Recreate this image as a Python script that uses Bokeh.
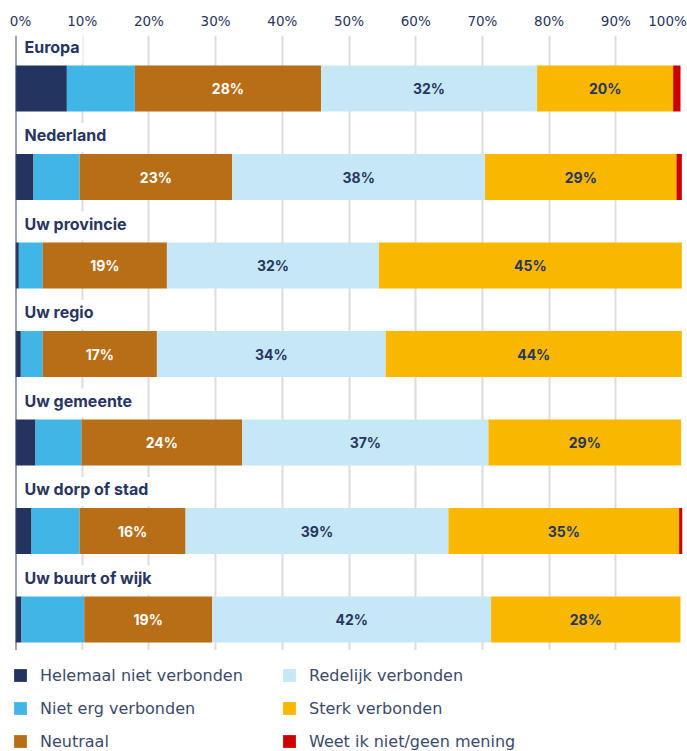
import numpy as np
from bokeh.plotting import figure
from bokeh.layouts import column
from bokeh.models import (ColumnDataSource, Range1d, FixedTicker, Span, Legend,
                          LegendItem, Label)
from bokeh.core.properties import value
from bokeh.embed import file_html
from bokeh.resources import INLINE

# ---------------- data ----------------
categories = ["Europa", "Nederland", "Uw provincie", "Uw regio",
              "Uw gemeente", "Uw dorp of stad", "Uw buurt of wijk"]
series_names = ["Helemaal niet verbonden", "Niet erg verbonden", "Neutraal",
                "Redelijk verbonden", "Sterk verbonden", "Weet ik niet/geen mening"]
helemaal_niet = [7.7, 2.7, 0.5, 0.8, 3.0, 2.4, 0.9]
niet_erg = [10.2, 6.9, 3.6, 3.3, 6.9, 7.2, 9.4]
neutraal = [27.9, 22.9, 18.6, 17.1, 24.1, 15.9, 19.2]
redelijk = [32.4, 37.9, 31.8, 34.3, 36.9, 39.4, 41.8]
sterk = [20.4, 28.7, 45.4, 44.4, 28.9, 34.6, 28.4]
weet_niet = [1.1, 0.8, 0.0, 0.0, 0.0, 0.5, 0.0]
tick_values = [0, 10, 20, 30, 40, 50, 60, 70, 80, 90, 100]
tick_labels = ["0%", "10%", "20%", "30%", "40%", "50%", "60%", "70%", "80%", "90%", "100%"]

# ---------------- style ----------------
colors = ["#22345f", "#41b5e5", "#b86d17", "#c6e8f6", "#fab700", "#cc0000"]
label_colors = ["white", "white", "white", "#28365f", "#28365f", "#28365f"]
TEXT = "#28365f"
FONT = "Inter"
LFONT = "DejaVu Sans"
BAR_H = 0.52
PX_PER_UNIT = 88.5          # vertical px per category step
PX_PER_PCT = 6.67           # horizontal px per percent
LEFT, RIGHT = 15, 5         # borders around the plotting frame
W = 687

keys = ["s0", "s1", "s2", "s3", "s4", "s5"]
series = [helemaal_niet, niet_erg, neutraal, redelijk, sterk, weet_niet]
ypos = [-i for i in range(len(categories))]
src = ColumnDataSource(dict(y=ypos, **{k: v for k, v in zip(keys, series)}))

# ---------------- top strip: tick labels ----------------
ptop = figure(width=W, height=35, output_backend="svg", toolbar_location=None,
              x_range=Range1d(-LEFT / PX_PER_PCT, (W - LEFT) / PX_PER_PCT),
              y_range=Range1d(0, 35), x_axis_location=None, y_axis_location=None,
              min_border=0, min_border_left=0, min_border_right=0,
              min_border_top=0, min_border_bottom=0, frame_align=False)
ptop.outline_line_color = None
ptop.grid.grid_line_color = None
tick_offsets = [5] + [0] * (len(tick_values) - 2) + [-15]
ptop.text(x=tick_values, y=[14.3] * len(tick_values), text=tick_labels,
          x_offset=tick_offsets, text_align="center", text_baseline="middle",
          text_font=value(LFONT), text_font_size="13.5px", text_color=TEXT)

# ---------------- main bars ----------------
p = figure(frame_width=W - LEFT - RIGHT, frame_height=615, output_backend="svg",
           toolbar_location=None, x_range=Range1d(0, 100), y_range=Range1d(-6.35, 0.599),
           x_axis_location="above", y_axis_location=None, frame_align=False,
           min_border_left=LEFT, min_border_right=RIGHT, min_border_top=0, min_border_bottom=0)
p.outline_line_color = None
p.background_fill_color = "white"
p.xaxis.visible = False
p.ygrid.grid_line_color = None
p.xaxis.ticker = FixedTicker(ticks=tick_values)
p.xgrid.ticker = FixedTicker(ticks=tick_values)
p.xgrid.grid_line_color = "#dcdcdc"
p.xgrid.grid_line_width = 2

p.hbar_stack(keys, y="y", height=BAR_H, source=src, fill_color=colors, line_color=None)

# segment value labels
arr = np.array(series)
starts = np.vstack([np.zeros(arr.shape[1]), np.cumsum(arr, axis=0)[:-1]])
lx, ly, lt, lc = [], [], [], []
for si in range(arr.shape[0]):
    for ci in range(arr.shape[1]):
        v = arr[si, ci]
        if v >= 12:
            lx.append(starts[si, ci] + v / 2)
            ly.append(ypos[ci])
            lt.append(f"{int(round(v))}%")
            lc.append(label_colors[si])
p.text(x=lx, y=ly, text=lt, text_color=lc, text_align="center", text_baseline="middle",
       text_font=value(FONT), text_font_style="bold", text_font_size="14px")

# category labels with white box
for cat, yc in zip(categories, ypos):
    p.add_layout(Label(x=0, y=yc + BAR_H / 2 + 2 / PX_PER_UNIT, text=cat, x_offset=7,
                       text_align="left", text_baseline="bottom", text_font=FONT,
                       text_font_style="bold", text_font_size="16px", text_color=TEXT,
                       background_fill_color="white", padding=(2, 3, 2, 7)))

p.add_layout(Span(location=0, dimension="height", line_color="#3a4670", line_width=2))

# ---------------- legend strip ----------------
# same stacked bars, kept outside the visible y range; they only feed the legend swatches
pleg = figure(width=W, height=101, output_backend="svg", toolbar_location=None,
              x_range=Range1d(0, 100), y_range=Range1d(100, 101),
              x_axis_location=None, y_axis_location=None, frame_align=False,
              min_border=0, min_border_left=0, min_border_right=0,
              min_border_top=0, min_border_bottom=0)
pleg.outline_line_color = None
pleg.grid.grid_line_color = None
leg_renderers = pleg.hbar_stack(keys, y="y", height=BAR_H, source=src,
                                fill_color=colors, line_color=None)
legend = Legend(items=[LegendItem(label=n, renderers=[r]) for n, r in zip(series_names, leg_renderers)],
                orientation="vertical", nrows=3, glyph_width=16, glyph_height=16,
                label_standoff=12, spacing=7, padding=0, margin=12, label_height=26,
                label_text_font=LFONT, label_text_font_size="16px", label_text_color="#3b4a6b",
                border_line_color=None, background_fill_alpha=0, location="top_left",
                label_width=234)
pleg.add_layout(legend)

layout = column(ptop, p, pleg, spacing=0)
open("out.html", "w").write(file_html(layout, INLINE))
